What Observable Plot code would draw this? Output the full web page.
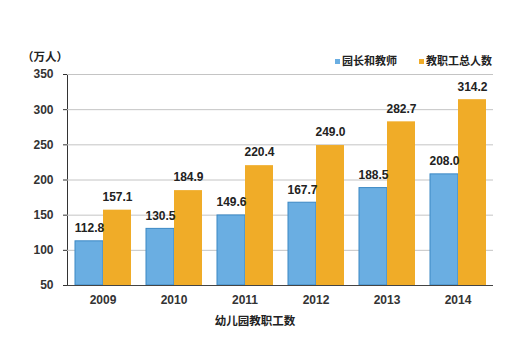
<!DOCTYPE html>
<html>
<head>
<meta charset="utf-8">
<script src="https://cdn.jsdelivr.net/npm/d3@7"></script>
<script src="https://cdn.jsdelivr.net/npm/@observablehq/plot@0.6"></script>
<style>
  html, body { margin: 0; padding: 0; background: #fff; }
  #wrap { position: relative; width: 510px; height: 359px; font-family: "Liberation Sans", "Noto Sans CJK SC", sans-serif; color: #222; }
  #wrap svg { position: absolute; left: 0; top: 0; }
  .note { position: absolute; white-space: nowrap; font-weight: bold; font-size: 11px; line-height: 1; }
  .sw { position: absolute; width: 5px; height: 5px; }
</style>
</head>
<body>
<div id="wrap">
  <div class="note" style="left:22px; top:52px; font-size:11.5px;">（万人）</div>
  <div class="sw" id="sw0" style="left:335px; top:59px;"></div>
  <div class="note" id="lg0" style="left:342px; top:56px;"></div>
  <div class="sw" id="sw1" style="left:419px; top:59px;"></div>
  <div class="note" id="lg1" style="left:426px; top:56px;"></div>
  <div class="note" id="xtitle" style="left:255px; top:316px; transform:translateX(-50%); font-size:11.5px;"></div>
</div>
<script>
const years = ["2009", "2010", "2011", "2012", "2013", "2014"];
const principalsTeachers = [112.8, 130.5, 149.6, 167.7, 188.5, 208.0];
const totalStaff = [157.1, 184.9, 220.4, 249.0, 282.7, 314.2];
const seriesNames = ["园长和教师", "教职工总人数"];
const seriesColors = ["#6aaee2", "#f0ac28"];
const yTicks = [50, 100, 150, 200, 250, 300, 350];
const xTitle = "幼儿园教职工数";

const rows = [];
years.forEach((y, i) => {
  rows.push({year: y, series: seriesNames[0], value: principalsTeachers[i]});
  rows.push({year: y, series: seriesNames[1], value: totalStaff[i]});
});

const chart = Plot.plot({
  width: 510,
  height: 359,
  marginLeft: 66,
  marginRight: 17,
  marginTop: 74,
  marginBottom: 74,
  style: {fontFamily: "'Liberation Sans', 'Noto Sans CJK SC', sans-serif", fontSize: "12px", fontWeight: "bold", color: "#333", background: "transparent"},
  fx: {domain: years, padding: 0, label: null, tickSize: 0, tickPadding: 10, axis: "bottom"},
  x: {domain: seriesNames, paddingInner: 0, paddingOuter: 0.228, axis: null},
  y: {domain: [yTicks[0], yTicks[yTicks.length - 1]], ticks: yTicks, tickSize: 4, tickPadding: 10, label: null, line: true},
  color: {domain: seriesNames, range: seriesColors},
  marks: [
    Plot.ruleY(yTicks.slice(1), {stroke: "#c4c4c4", strokeWidth: 1}),
    Plot.barY(rows, {
      fx: "year", x: "series",
      y1: () => yTicks[0], y2: "value",
      fill: "series",
      stroke: d => d.series === seriesNames[0] ? "#3b88c4" : "none",
      strokeWidth: 1
    }),
    Plot.ruleY([yTicks[0]], {stroke: "#444", strokeWidth: 1.2}),
    Plot.text(rows, {
      fx: "year", x: "series", y: "value",
      text: d => d.value.toFixed(1),
      dy: -13, fontSize: 12, fontWeight: "bold", fill: "#222"
    })
  ]
});
document.getElementById("wrap").appendChild(chart);

document.getElementById("sw0").style.background = seriesColors[0];
document.getElementById("sw1").style.background = seriesColors[1];
document.getElementById("lg0").textContent = seriesNames[0];
document.getElementById("lg1").textContent = seriesNames[1];
document.getElementById("xtitle").textContent = xTitle;
</script>
</body>
</html>
